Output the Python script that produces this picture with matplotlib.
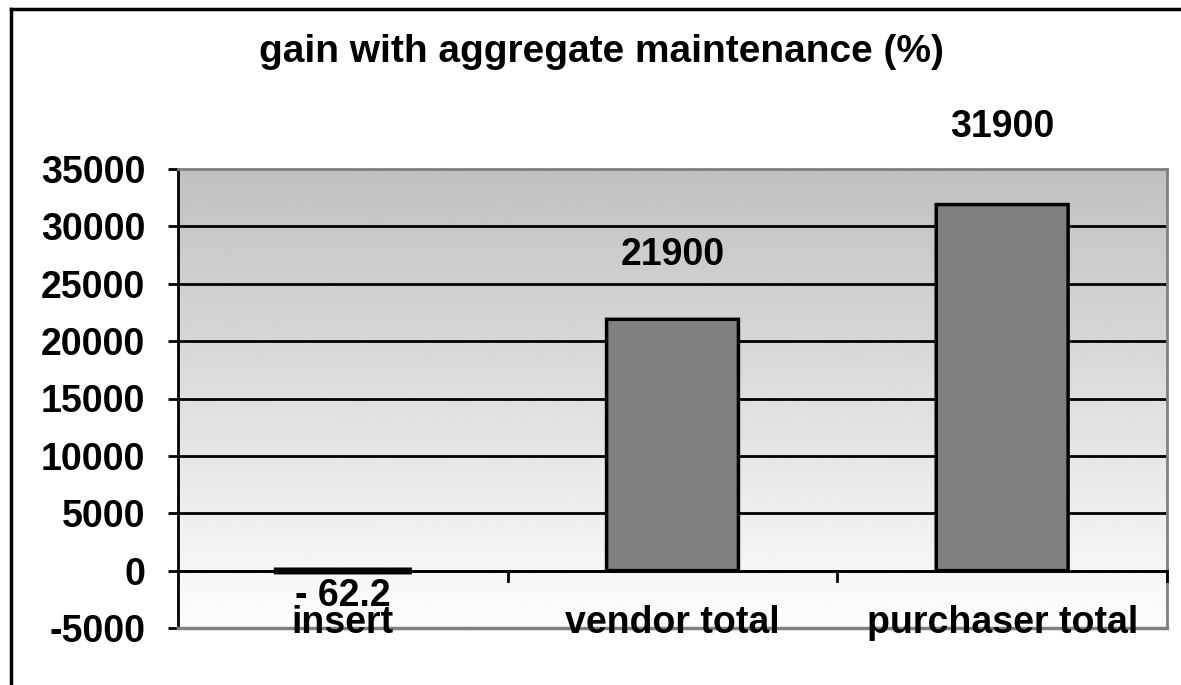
import numpy as np
import matplotlib
matplotlib.use("Agg")
import matplotlib.pyplot as plt
from matplotlib.lines import Line2D

categories = ["insert", "vendor total", "purchaser total"]
gains = [-62.2, 21900, 31900]
value_labels = ["- 62.2", "21900", "31900"]
y_ticks = [-5000, 0, 5000, 10000, 15000, 20000, 25000, 30000, 35000]

# label offsets (points) above / below each bar, as in the original sheet
label_offsets = [-5, 33, 43]
# the tiny negative bar shows up as a thick black strip in the original
bar_edge_widths = [4.5, 2.5, 2.5]

plt.rcParams["font.family"] = ["Liberation Sans", "DejaVu Sans"]
plt.rcParams["font.weight"] = "bold"
FS = 27

fig = plt.figure(figsize=(11.81, 6.85), dpi=100)
ax = fig.add_axes([178 / 1181, 1 - 628 / 685, (1167 - 178) / 1181, (628 - 169) / 685])

x = np.arange(len(categories))
ax.set_xlim(-0.5, len(categories) - 0.5)
ax.set_ylim(-5000, 35000)

# gradient background: gray at top fading to white
grad = np.linspace(253, 192, 256).reshape(-1, 1) / 255.0
ax.imshow(grad, cmap="gray", vmin=0, vmax=1, aspect="auto", origin="lower",
          extent=[-0.5, len(categories) - 0.5, -5000, 35000], zorder=0)

for yv in y_ticks[1:-1]:
    ax.axhline(yv, color="black", lw=2, zorder=1)
ax.axhline(0, color="black", lw=2, zorder=4)

bars = ax.bar(x, gains, width=0.4, color="#808080", edgecolor="black",
              linewidth=bar_edge_widths, zorder=5)
for b in bars:
    b.set_snap(False)

for xi, v, lab, off in zip(x, gains, value_labels, label_offsets):
    va = "bottom" if v >= 0 else "top"
    ax.annotate(lab, (xi, v), xytext=(0, off), textcoords="offset points",
                ha="center", va=va, fontsize=FS, fontweight="bold", zorder=6,
                annotation_clip=False)

# spines
for s in ["top", "right"]:
    ax.spines[s].set_color("#808080")
    ax.spines[s].set_linewidth(2)
ax.spines["left"].set_color("black")
ax.spines["left"].set_linewidth(2)
ax.spines["bottom"].set_visible(False)
ax.axhline(-5000, color="#808080", lw=2.5, zorder=6, clip_on=False)

ax.set_yticks(y_ticks)
ax.set_yticklabels([str(t) for t in y_ticks])
ax.tick_params(axis="y", direction="out", length=7.5, width=2, pad=16, labelsize=FS)

# category axis sits on zero, with ticks between categories
ax.set_xticks([])
for b in list(x + 0.5):
    ax.add_line(Line2D([b, b], [0, -900], color="black", lw=2, zorder=4, clip_on=False))
for xi, cat in zip(x, categories):
    ax.annotate(cat, (xi, 0), xytext=(0, -45), textcoords="offset points",
                ha="center", va="baseline", fontsize=FS, fontweight="bold",
                zorder=7, annotation_clip=False)

fig.text(601 / 1181, 1 - 62 / 685, "gain with aggregate maintenance (%)",
         ha="center", va="baseline", fontsize=28, fontweight="bold")

# outer chart frame
fig.add_artist(Line2D([11 / 1181, 11 / 1181], [1 - 9 / 685, -0.1], color="black", lw=2.5))
fig.add_artist(Line2D([11 / 1181, 1.1], [1 - 9 / 685, 1 - 9 / 685], color="black", lw=2.5))

fig.savefig("out.png", dpi=100)
